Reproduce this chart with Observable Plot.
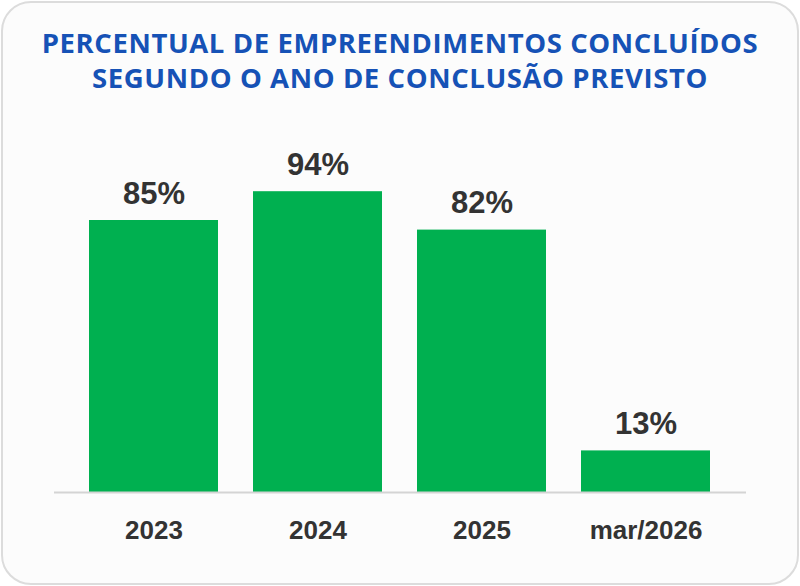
<!DOCTYPE html>
<html>
<head>
<meta charset="utf-8">
<script src="https://cdn.jsdelivr.net/npm/d3@7"></script>
<script src="https://cdn.jsdelivr.net/npm/@observablehq/plot@0.6"></script>
<style>
  html, body { margin: 0; padding: 0; background: #ffffff; }
  body { position: relative; width: 800px; height: 586px; overflow: hidden; }
  #card { position: absolute; left: 1px; top: 1px; width: 798px; height: 584px; box-sizing: border-box;
          border: 2px solid #dcdcdc; border-radius: 30px; background: #fcfcfc; }
  #title { position: absolute; left: 0; top: 25px; width: 800px; text-align: center;
           font-family: "Open Sans", sans-serif; font-weight: 700; font-size: 27.5px; line-height: 35px;
           color: #1652B6; letter-spacing: 0.6px; }
  #chart { position: absolute; left: 0; top: 110px; }
</style>
</head>
<body>
<div id="card"></div>
<div id="title">PERCENTUAL DE EMPREENDIMENTOS CONCLUÍDOS<br>SEGUNDO O ANO DE CONCLUSÃO PREVISTO</div>
<div id="chart"></div>
<script>
const categories = ["2023", "2024", "2025", "mar/2026"];
const values = [85, 94, 82, 13];
const labels = ["85%", "94%", "82%", "13%"];

const data = categories.map((c, i) => ({cat: c, value: values[i], label: labels[i]}));

const chart = Plot.plot({
  width: 800,
  height: 476,
  marginLeft: 54,
  marginRight: 54,
  marginTop: 62,
  marginBottom: 94,
  style: {background: "transparent", fontFamily: "'Liberation Sans', Arial, sans-serif", overflow: "visible"},
  x: {domain: categories, paddingInner: 0.213, paddingOuter: 0.1065, insetLeft: 17.5, insetRight: 18.5, label: null},
  y: {domain: [0, 100], axis: null},
  marks: [
    Plot.barY(data, {x: "cat", y: "value", fill: "#00B050"}),
    Plot.ruleY([0], {stroke: "#d4d4d4", strokeWidth: 2}),
    Plot.text(data, {x: "cat", y: "value", text: "label", lineAnchor: "bottom", dy: -17,
                     fontSize: 31, fontWeight: 700, fill: "#333333"}),
    Plot.axisX({tickSize: 0, tickPadding: 28, fontSize: 26, fontWeight: 700, fill: "#333333", label: null})
  ]
});
document.getElementById("chart").appendChild(chart);
</script>
</body>
</html>
